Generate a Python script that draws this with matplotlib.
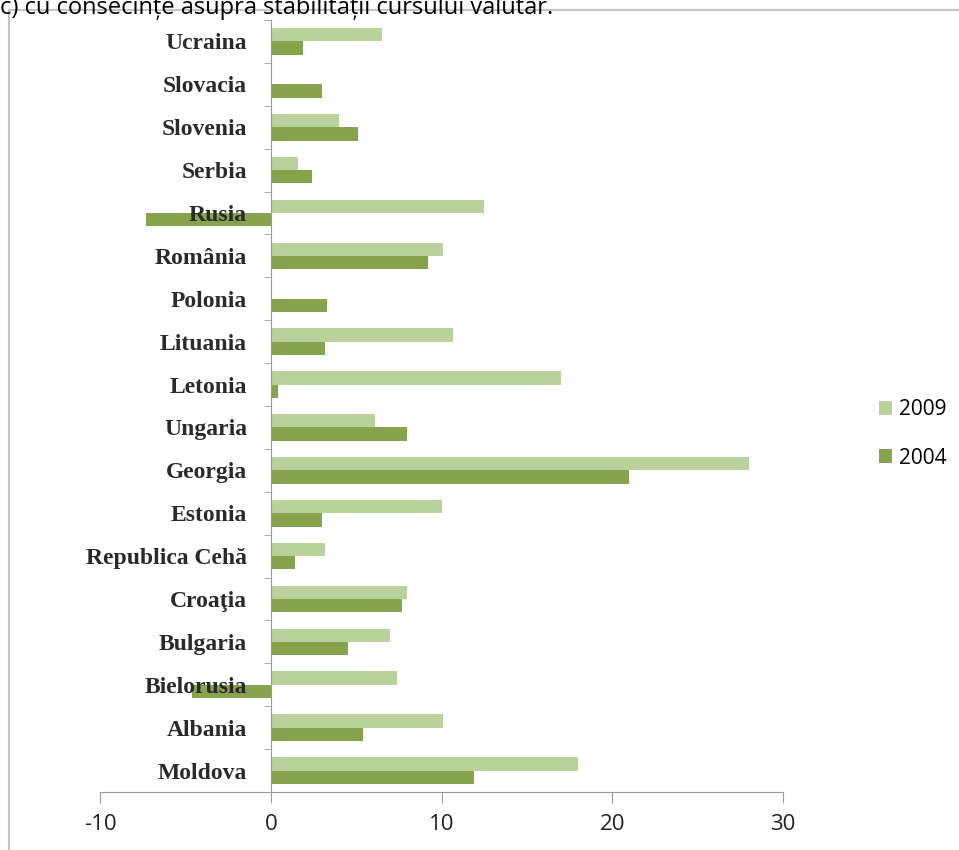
import numpy as np
import matplotlib.pyplot as plt
from matplotlib.patches import Rectangle

plt.rcParams["axes.unicode_minus"] = False
plt.rcParams["font.family"] = ["Open Sans", "DejaVu Sans"]

# categories from bottom to top, as on the chart
tari = ["Moldova", "Albania", "Bielorusia", "Bulgaria", "Croaţia", "Republica Cehă",
        "Estonia", "Georgia", "Ungaria", "Letonia", "Lituania", "Polonia",
        "România", "Rusia", "Serbia", "Slovenia", "Slovacia", "Ucraina"]
v2009 = [18.0, 10.1, 7.4, 7.0, 8.0, 3.2, 10.0, 28.0, 6.1, 17.0, 10.7, 0.0,
         10.1, 12.5, 1.6, 4.0, 0.0, 6.5]
v2004 = [11.9, 5.4, -4.6, 4.5, 7.7, 1.4, 3.0, 21.0, 8.0, 0.4, 3.2, 3.3,
         9.2, -7.3, 2.4, 5.1, 3.0, 1.9]
ani = ["2009", "2004"]

W, H = 959, 850
fig = plt.figure(figsize=(W / 100, H / 100), dpi=100)
fig.patch.set_facecolor("white")

# text cut off at the top of the page
fig.text(0.0, 1 - 14 / H, "c) cu consecințe asupra stabilității cursului valutar.",
         fontsize=17, va="baseline", ha="left", color="black")

# chart frame running off the page
fig.patches.append(Rectangle((9 / W, -0.1), 1.2, 1 - 10 / H + 0.1, transform=fig.transFigure,
                             fill=False, edgecolor="#c4c4c4", linewidth=1.5))

ax = fig.add_axes([100 / W, 1 - 792 / H, 683 / W, 772 / H])
y = np.arange(len(tari))
h = 0.31
ax.barh(y + h / 2, v2009, height=h, color="#b9d19a", label=ani[0])
ax.barh(y - h / 2, v2004, height=h, color="#87a44c", label=ani[1])

ax.set_xlim(-10, 30)
ax.set_ylim(-0.5, len(tari) - 0.5)
ax.set_xticks([-10, 0, 10, 20, 30])
ax.set_yticks(y)
ax.set_yticklabels(tari)
ax.set_yticks(np.arange(len(tari) + 1) - 0.5, minor=True)
ax.set_axisbelow(False)

for s in ["top", "right"]:
    ax.spines[s].set_visible(False)
ax.spines["left"].set_position(("data", 0))
ax.spines["left"].set_color("#999999")
ax.spines["bottom"].set_color("#999999")
ax.tick_params(axis="y", which="major", length=0, pad=17)
ax.tick_params(axis="y", which="minor", length=5, color="#999999")
ax.tick_params(axis="x", length=8, color="#999999", pad=8, labelsize=16, labelcolor="#222222")

for t in ax.get_yticklabels():
    t.set_family("Liberation Serif")
    t.set_fontsize(17)
    t.set_fontweight("bold")
    t.set_color("#2a2a2a")

hs, ls = ax.get_legend_handles_labels()
fig.legend(hs, ls, loc="center left", bbox_to_anchor=(860 / W, 1 - 434 / H),
           frameon=False, prop={"size": 15},
           handlelength=0.65, handleheight=0.65, handletextpad=0.3, labelspacing=1.3)

fig.savefig("out.png", dpi=100)
